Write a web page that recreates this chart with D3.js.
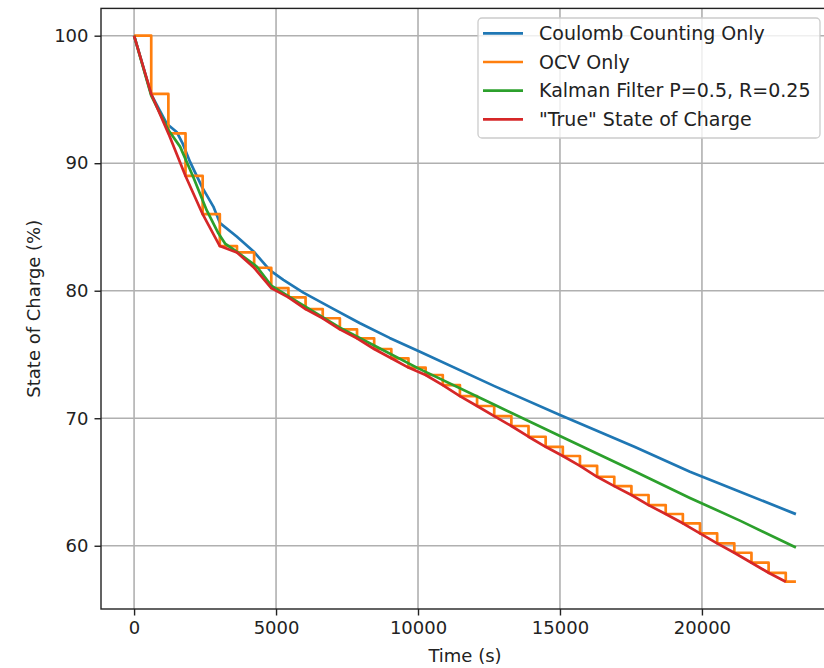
<!DOCTYPE html>
<html>
<head>
<meta charset="utf-8">
<script src="https://cdn.jsdelivr.net/npm/d3@7"></script>
<style>
  body { margin: 0; background: #fff; }
  text { font-family: "DejaVu Sans", sans-serif; fill: #222; }
</style>
</head>
<body>
<div id="chart"></div>
<script>
// OCV sample times (s) and the "true" SoC / OCV reading at each one
var sampleTime = [0, 604, 1208, 1812, 2416, 3020, 3624, 4228, 4832, 5436, 6040, 6644, 7248, 7852,
  8456, 9060, 9664, 10268, 10872, 11476, 12080, 12684, 13288, 13892, 14496, 15100, 15704, 16308,
  16912, 17516, 18120, 18724, 19328, 19932, 20536, 21140, 21744, 22348, 22952];
var trueSoc = [100, 95.43, 92.34, 89.0, 86.0, 83.5, 83.0, 81.8, 80.2, 79.48, 78.56, 77.84, 76.97, 76.27,
  75.43, 74.70, 73.97, 73.39, 72.60, 71.74, 70.96, 70.17, 69.39, 68.55, 67.76, 67.04, 66.27, 65.41,
  64.68, 63.98, 63.19, 62.49, 61.76, 60.97, 60.19, 59.45, 58.67, 57.88, 57.18];
var ocvSoc = [100, 95.43, 92.34, 89.0, 86.0, 83.5, 83.0, 81.8, 80.2, 79.48, 78.56, 77.84, 76.97, 76.27,
  75.43, 74.70, 73.97, 73.39, 72.60, 71.74, 70.96, 70.17, 69.39, 68.55, 67.76, 67.04, 66.27, 65.41,
  64.68, 63.98, 63.19, 62.49, 61.76, 60.97, 60.19, 59.45, 58.67, 57.88, 57.18];
var endTime = 23310;

// coulomb counting
var ccTime = [0, 604, 1150, 1500, 1700, 1972, 2400, 2792, 3028, 3614, 4201, 4789, 5258, 5962, 7000,
  7958, 9000, 10070, 12711, 15000, 17641, 19577, 21338, 23310];
var ccSoc = [100, 95.4, 93.1, 92.45, 91.6, 90.1, 88.1, 86.6, 85.3, 84.25, 83.1, 81.6, 80.85, 79.85, 78.6,
  77.45, 76.3, 75.22, 72.5, 70.25, 67.75, 65.8, 64.24, 62.48];

// kalman filter
var kfTime = [0, 604, 1208, 1620, 2088, 2560, 2969, 3204, 3614, 4320, 4832, 5845, 7248, 8456, 10011,
  12711, 15000, 17641, 19577, 21338, 23310];
var kfSoc = [100, 95.3, 92.6, 91.3, 88.9, 86.3, 84.5, 83.7, 83.06, 81.9, 80.4, 79.0, 77.1, 75.7, 73.91,
  71.04, 68.6, 65.82, 63.75, 61.97, 59.87];

var xTicks = [0, 5000, 10000, 15000, 20000];
var yTicks = [60, 70, 80, 90, 100];
var legendLabels = ["Coulomb Counting Only", "OCV Only", "Kalman Filter P=0.5, R=0.25", "\"True\" State of Charge"];
var colors = ["#1f77b4", "#ff7f0e", "#2ca02c", "#d62728"];

var W = 824, H = 668;
var padL = 101, padR = 829, padT = 8.4, padB = 609;

var svg = d3.select("#chart").append("svg")
  .attr("width", W).attr("height", H);

var x = d3.scaleLinear().domain([-1165, 24475]).range([padL, padR]);
var y = d3.scaleLinear().domain([55.04, 102.14]).range([padB, padT]);

// grid
svg.append("g").selectAll("line").data(xTicks).enter().append("line")
  .attr("x1", function(d) { return x(d); }).attr("x2", function(d) { return x(d); })
  .attr("y1", padT).attr("y2", padB)
  .attr("stroke", "#b0b0b0").attr("stroke-width", 1.6);
svg.append("g").selectAll("line").data(yTicks).enter().append("line")
  .attr("y1", function(d) { return y(d); }).attr("y2", function(d) { return y(d); })
  .attr("x1", padL).attr("x2", padR)
  .attr("stroke", "#b0b0b0").attr("stroke-width", 1.6);

function pts(t, v) {
  return t.map(function(d, i) { return [d, v[i]]; });
}
var line = d3.line().x(function(d) { return x(d[0]); }).y(function(d) { return y(d[1]); });
var stepLine = d3.line().curve(d3.curveStepAfter)
  .x(function(d) { return x(d[0]); }).y(function(d) { return y(d[1]); });

var ocvPts = pts(sampleTime, ocvSoc);
ocvPts.push([endTime, ocvSoc[ocvSoc.length - 1]]);

var series = [
  { d: line(pts(ccTime, ccSoc)), c: colors[0] },
  { d: stepLine(ocvPts), c: colors[1] },
  { d: line(pts(kfTime, kfSoc)), c: colors[2] },
  { d: line(pts(sampleTime, trueSoc)), c: colors[3] }
];
svg.append("g").selectAll("path").data(series).enter().append("path")
  .attr("d", function(d) { return d.d; })
  .attr("fill", "none")
  .attr("stroke", function(d) { return d.c; })
  .attr("stroke-width", 2.7)
  .attr("stroke-linejoin", "round");

// axes
var xAxis = d3.axisBottom(x).tickValues(xTicks).tickSize(6.5).tickPadding(6).tickFormat(d3.format("d"));
var yAxis = d3.axisLeft(y).tickValues(yTicks).tickSize(6.5).tickPadding(6).tickFormat(d3.format("d"));
var gx = svg.append("g").attr("transform", "translate(0," + padB + ")").call(xAxis);
var gy = svg.append("g").attr("transform", "translate(" + padL + ",0)").call(yAxis);
[gx, gy].forEach(function(g) {
  g.select(".domain").remove();
  g.selectAll(".tick line").attr("stroke", "#222").attr("stroke-width", 1.4);
  g.selectAll(".tick text").attr("font-size", 18).attr("fill", "#222")
    .style("font-family", "DejaVu Sans, sans-serif");
});

// spines
svg.append("rect")
  .attr("x", padL).attr("y", padT)
  .attr("width", padR - padL).attr("height", padB - padT)
  .attr("fill", "none").attr("stroke", "#222").attr("stroke-width", 1.4);

svg.append("text")
  .attr("x", (padL + padR) / 2).attr("y", 662)
  .attr("text-anchor", "middle").attr("font-size", 18)
  .text("Time (s)");
svg.append("text")
  .attr("transform", "translate(40," + ((padT + padB) / 2) + ") rotate(-90)")
  .attr("text-anchor", "middle").attr("font-size", 18)
  .text("State of Charge (%)");

// legend
var lg = svg.append("g");
lg.append("rect")
  .attr("x", 478).attr("y", 18).attr("width", 342).attr("height", 120)
  .attr("rx", 4).attr("fill", "#fff").attr("fill-opacity", 0.8)
  .attr("stroke", "#cccccc").attr("stroke-width", 1.3);
var items = lg.selectAll("g.item").data(legendLabels).enter().append("g")
  .attr("transform", function(d, i) { return "translate(0," + (33.3 + i * 28.7) + ")"; });
items.append("line")
  .attr("x1", 483).attr("x2", 523).attr("y1", 0).attr("y2", 0)
  .attr("stroke", function(d, i) { return colors[i]; }).attr("stroke-width", 2.7);
items.append("text")
  .attr("x", 539).attr("y", 0).attr("dy", "0.35em")
  .attr("font-size", 19)
  .text(function(d) { return d; });
</script>
</body>
</html>
